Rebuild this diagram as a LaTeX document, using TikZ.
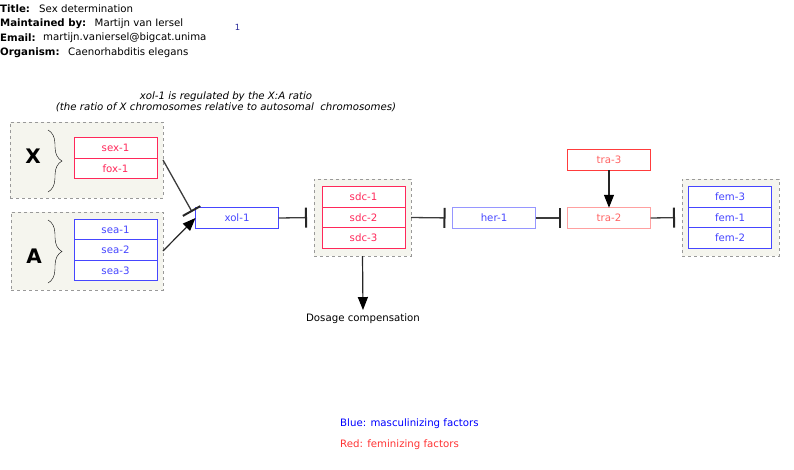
\documentclass[tikz,border=0pt]{standalone}
\usepackage{fontspec}
\setmainfont{DejaVu Sans}
\usetikzlibrary{arrows.meta,decorations.pathreplacing,positioning}

\definecolor{femred}{RGB}{255,40,90}
\definecolor{trared}{RGB}{255,60,60}
\definecolor{tratext}{RGB}{255,100,100}
\definecolor{tralight}{RGB}{255,160,160}
\definecolor{mascblue}{RGB}{70,70,255}
\definecolor{herblue}{RGB}{150,150,255}
\definecolor{groupbg}{RGB}{245,245,238}
\definecolor{linegray}{RGB}{60,60,60}

\tikzset{
  gene/.style={draw, fill=white, minimum width=83pt, minimum height=20.5pt, inner sep=0pt, outer sep=0pt, line width=0.8pt},
  femgene/.style={gene, draw=femred, text=femred},
  mascgene/.style={gene, draw=mascblue, text=mascblue},
  group/.style={draw=gray!80, dashed, fill=groupbg, line width=0.8pt, inner sep=0pt, outer sep=0pt},
  inhibit/.style={draw=linegray, line width=1.3pt, -{Bar[width=20pt,line width=2pt,color=black!85]}, shorten >=7pt},
  activate/.style={draw=black!85, line width=1.2pt, -{Triangle[width=10pt,length=13pt,color=black]}},
  header/.style={anchor=west, inner sep=0pt}
}

\begin{document}
\begin{tikzpicture}[x=1pt,y=-1pt,font=\fontsize{10.2}{12}\selectfont]
  \useasboundingbox (0,0) rectangle (794,469);

  % Header
  \node[header, font=\fontsize{10.2}{12}\bfseries] (title) at (0,9) {Title:};
  \node[header] (titleval) at (39,9) {Sex determination};
  \node[header, font=\fontsize{10.2}{12}\bfseries] (maint) at (0,23.5) {Maintained by:};
  \node[header] (maintval) at (94.5,23.5) {Martijn van Iersel};
  \node[header, font=\fontsize{10.2}{12}\bfseries] (email) at (0,38) {Email:};
  \begin{scope}
    \clip (0,30) rectangle (205,46);
    \node[header] (emailval) at (43,38) {martijn.vaniersel@bigcat.unimaas.nl};
  \end{scope}
  \node[header, font=\fontsize{10.2}{12}\bfseries] (organism) at (0,52.5) {Organism:};
  \node[header] (organismval) at (68,52.5) {Caenorhabditis elegans};
  \node[text=mascblue!60!black, font=\fontsize{8.5}{9}\selectfont] (ref) at (237.5,27.5) {1};

  % Caption over the X:A part
  \node[align=center, font=\fontsize{10.2}{11.5}\itshape] (xanote) at (226,102)
    {xol-1 is regulated by the X:A ratio\\(the ratio of X chromosomes relative to autosomal\ \ chromosomes)};

  % Grey groups
  \node[group, minimum width=153pt, minimum height=76pt] (Xgrp) at (86.5,160) {};
  \node[group, minimum width=152pt, minimum height=78pt] (Agrp) at (87,251) {};
  \node[group, minimum width=97pt, minimum height=77pt] (sdcgrp) at (362.5,217.5) {};
  \node[group, minimum width=97pt, minimum height=77pt] (femgrp) at (730.5,217.5) {};

  % X chromosome
  \node[font=\fontsize{20}{20}\bfseries] (Xlab) at (33,156) {X};
  \draw[decorate, decoration={brace, amplitude=14pt}] (48,130) -- (48,192);
  \node[femgene] (sex1) at (115.5,148) {sex-1};
  \node[femgene, below=0pt of sex1] (fox1) {fox-1};

  % Autosomes
  \node[font=\fontsize{20}{20}\bfseries] (Alab) at (34,256) {A};
  \draw[decorate, decoration={brace, amplitude=14pt}] (48,220) -- (48,283);
  \node[mascgene] (sea1) at (115.5,229.5) {sea-1};
  \node[mascgene, below=0pt of sea1] (sea2) {sea-2};
  \node[mascgene, below=0pt of sea2] (sea3) {sea-3};

  % Main pathway
  \node[mascgene] (xol1) at (237,218) {xol-1};
  \node[femgene] (sdc1) at (363.5,197) {sdc-1};
  \node[femgene, below=0pt of sdc1] (sdc2) {sdc-2};
  \node[femgene, below=0pt of sdc2] (sdc3) {sdc-3};
  \node[gene, draw=herblue, text=mascblue] (her1) at (494,218) {her-1};
  \node[gene, draw=tralight, text=tratext] (tra2) at (609,218) {tra-2};
  \node[gene, draw=trared, text=tratext] (tra3) at (609,160) {tra-3};
  \node[mascgene] (fem3) at (730,197) {fem-3};
  \node[mascgene, below=0pt of fem3] (fem1) {fem-1};
  \node[mascgene, below=0pt of fem1] (fem2) {fem-2};
  \node (dosage) at (363,318.5) {Dosage compensation};

  % Connectors
  \draw[inhibit] (Xgrp.east) -- (xol1.west);
  \draw[activate] (Agrp.east) -- (xol1.west);
  \draw[inhibit] (xol1.east) -- (sdcgrp.west);
  \draw[inhibit] (sdcgrp.east) -- (her1.west);
  \draw[inhibit] (her1.east) -- (tra2.west);
  \draw[inhibit] (tra2.east) -- (femgrp.west);
  \draw[activate] (tra3.south) -- (tra2.north);
  \draw[activate] (sdcgrp.south) -- (dosage.north);

  % Legend
  \node[header, text=blue] (blue) at (340,423.5) {Blue: masculinizing factors};
  \node[header, text=red!80] (red) at (340,444.5) {Red: feminizing factors};
\end{tikzpicture}
\end{document}
